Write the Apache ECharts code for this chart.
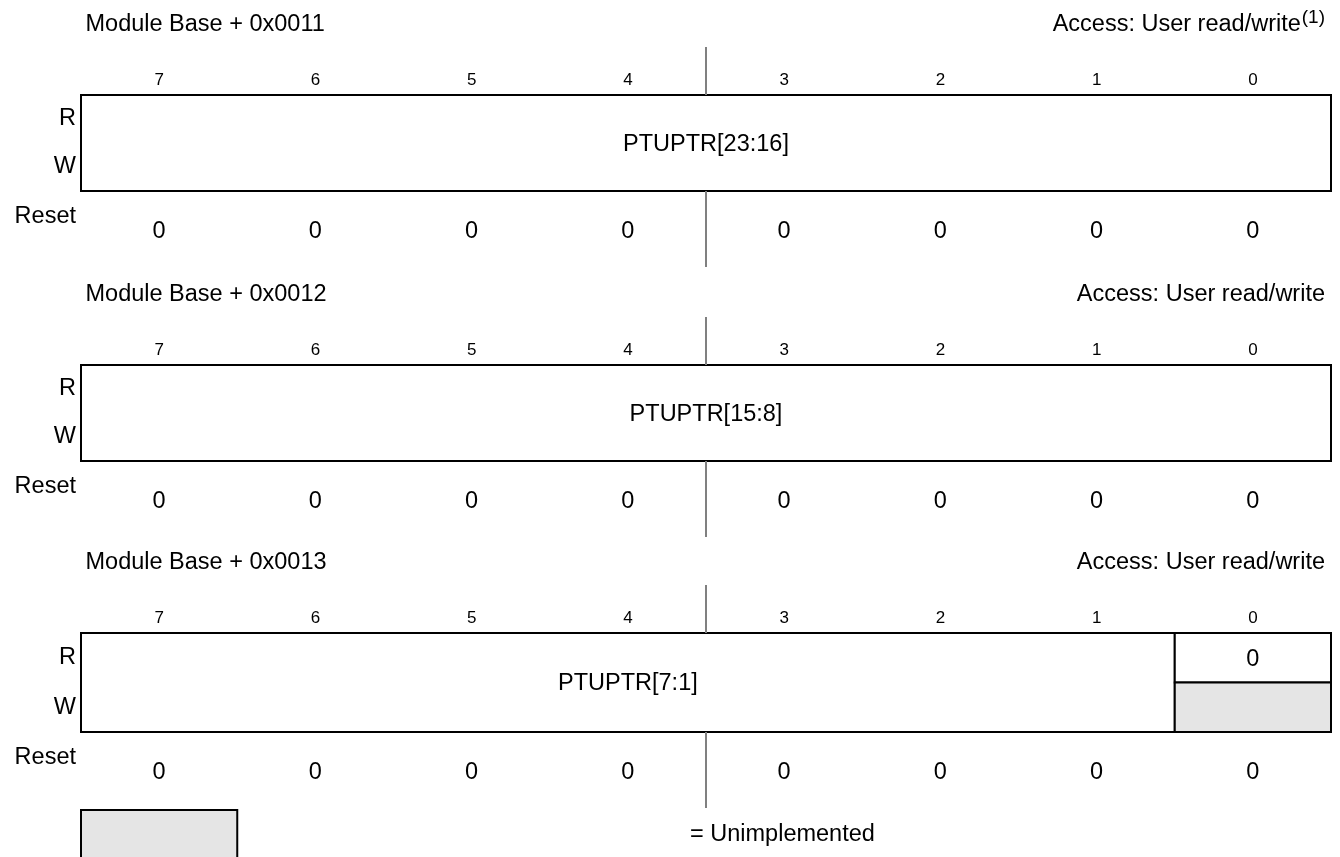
<!DOCTYPE html>
<html>
<head>
<meta charset="utf-8">
<script src="https://cdn.jsdelivr.net/npm/echarts@6/dist/echarts.min.js"></script>
<style>
  html, body { margin: 0; padding: 0; background: #fff; }
  #main { width: 1340px; height: 857px; }
</style>
</head>
<body>
<div id="main"></div>
<script>
// register data
var bitLabels = ['7', '6', '5', '4', '3', '2', '1', '0'];
var rowLabels = ['R', 'W'];
var regAddrs = ['Module Base + 0x0011', 'Module Base + 0x0012', 'Module Base + 0x0013'];
var regAccess = ['Access: User read/write', 'Access: User read/write', 'Access: User read/write'];
var accessNotes = ['(1)', '', ''];
var fieldNames = ['PTUPTR[23:16]', 'PTUPTR[15:8]', 'PTUPTR[7:1]'];
var fieldMsb = [7, 7, 7];
var fieldLsb = [0, 0, 1];
var resetValues = [
  [0, 0, 0, 0, 0, 0, 0, 0],
  [0, 0, 0, 0, 0, 0, 0, 0],
  [0, 0, 0, 0, 0, 0, 0, 0]
];
// bits that read a fixed value and are not implemented for write
var fixedBits = [[], [], [0]];
var fixedReads = [[], [], ['0']];
var nibbleBit = 4;
var legendText = '= Unimplemented';

// layout
var FONT = '"Liberation Sans", Arial, sans-serif';
var FS = 23.5;
var SUP_FS = 19;
var boxLeft = 81, boxRight = 9;
var boxTops = [95, 365, 633];
var boxHeights = [96, 96, 99];
var GRAY = '#e5e5e5';

var chart = echarts.init(document.getElementById('main'));

// width of the superscript note, to push the access text left
var measureCtx = document.createElement('canvas').getContext('2d');
function textWidth(s, size) {
  measureCtx.font = size + 'px ' + FONT;
  return measureCtx.measureText(s).width;
}

function bitCol(b) { return 7 - b; }

function buildCells(i) {
  var cells = [{ value: [bitCol(fieldMsb[i]), bitCol(fieldLsb[i]), 0, 1], text: fieldNames[i], fill: '#fff' }];
  fixedBits[i].forEach(function (b, k) {
    cells.push({ value: [bitCol(b), bitCol(b), 0, 0], text: fixedReads[i][k], fill: '#fff' });
    cells.push({ value: [bitCol(b), bitCol(b), 1, 1], text: '', fill: GRAY });
  });
  return cells;
}

function cellRenderer(cells) {
  return function (params, api) {
    var c = cells[params.dataIndex];
    var band = api.size([1, 1]);
    var p0 = api.coord([api.value(0), api.value(2)]);
    var p1 = api.coord([api.value(1), api.value(3)]);
    var x = p0[0] - band[0] / 2, y = p0[1] - band[1] / 2;
    return {
      type: 'rect',
      shape: { x: x, y: y, width: p1[0] + band[0] / 2 - x, height: p1[1] + band[1] / 2 - y },
      style: { fill: c.fill, stroke: '#000', lineWidth: 2 },
      textContent: { style: { text: c.text, fontFamily: FONT, fontSize: FS, fill: '#000' } },
      textConfig: { position: 'inside', offset: [0, 1.5] }
    };
  };
}

function dividerRenderer(params, api) {
  var cs = params.coordSys;
  var band = api.size([1, 0])[0];
  var x = api.coord([api.value(0), 0])[0] + band / 2;
  var st = { stroke: '#808080', lineWidth: 2 };
  return {
    type: 'group',
    children: [
      { type: 'line', shape: { x1: x, y1: cs.y - 48, x2: x, y2: cs.y }, style: st },
      { type: 'line', shape: { x1: x, y1: cs.y + cs.height, x2: x, y2: cs.y + cs.height + 76 }, style: st }
    ]
  };
}

var grids = [], xAxes = [], yAxes = [], series = [], graphics = [];

regAddrs.forEach(function (addr, i) {
  grids.push({ left: boxLeft, right: boxRight, top: boxTops[i], height: boxHeights[i], outerBoundsMode: 'none', containLabel: false });
  xAxes.push({
    type: 'category', gridIndex: i, position: 'top', data: bitLabels,
    axisLine: { show: false }, axisTick: { show: false }, splitLine: { show: false },
    axisLabel: { margin: 6.5, fontSize: 17, fontFamily: FONT, color: '#000' }
  });
  xAxes.push({
    type: 'category', gridIndex: i, position: 'bottom', data: bitLabels,
    axisLine: { show: false }, axisTick: { show: false }, splitLine: { show: false },
    axisLabel: {
      margin: 29, fontSize: FS, fontFamily: FONT, color: '#000',
      formatter: function (v, idx) { return String(resetValues[i][idx]); }
    }
  });
  yAxes.push({
    type: 'category', gridIndex: i, inverse: true, data: rowLabels,
    axisLine: { show: false }, axisTick: { show: false }, splitLine: { show: false },
    axisLabel: { margin: 5, fontSize: FS, fontFamily: FONT, color: '#000', padding: [3, 0, 0, 0] }
  });

  var cells = buildCells(i);
  series.push({
    type: 'custom', xAxisIndex: 2 * i, yAxisIndex: i, silent: true,
    renderItem: cellRenderer(cells),
    data: cells.map(function (c) { return { value: c.value }; })
  });
  series.push({
    type: 'custom', xAxisIndex: 2 * i, yAxisIndex: i, silent: true,
    renderItem: dividerRenderer,
    data: [[bitCol(nibbleBit), 0]]
  });

  var top = boxTops[i], bottom = boxTops[i] + boxHeights[i];
  var titleY = top - 70;
  var accessRight = 1325;
  graphics.push({
    type: 'text', x: 85.5, y: titleY,
    style: { text: addr, fontFamily: FONT, fontSize: FS, fill: '#000', textVerticalAlign: 'middle' }
  });
  if (accessNotes[i]) {
    graphics.push({
      type: 'text', x: accessRight, y: titleY - 7,
      style: { text: accessNotes[i], fontFamily: FONT, fontSize: SUP_FS, fill: '#000', textAlign: 'right', textVerticalAlign: 'middle' }
    });
    accessRight -= textWidth(accessNotes[i], SUP_FS) + 1;
  }
  graphics.push({
    type: 'text', x: accessRight, y: titleY,
    style: { text: regAccess[i], fontFamily: FONT, fontSize: FS, fill: '#000', textAlign: 'right', textVerticalAlign: 'middle' }
  });
  graphics.push({
    type: 'text', x: 76, y: bottom + 26,
    style: { text: 'Reset', fontFamily: FONT, fontSize: FS, fill: '#000', textAlign: 'right', textVerticalAlign: 'middle' }
  });
});

// legend swatch: one bit column wide
var colW = (1340 - boxLeft - boxRight) / bitLabels.length;
graphics.push({
  type: 'rect', shape: { x: boxLeft, y: 810, width: colW, height: 70 },
  style: { fill: GRAY, stroke: '#000', lineWidth: 2 }
});
graphics.push({
  type: 'text', x: 690, y: 835,
  style: { text: legendText, fontFamily: FONT, fontSize: FS, fill: '#000', textVerticalAlign: 'middle' }
});

chart.setOption({
  animation: false,
  backgroundColor: '#fff',
  grid: grids,
  xAxis: xAxes,
  yAxis: yAxes,
  series: series,
  graphic: { elements: graphics }
});
</script>
</body>
</html>
